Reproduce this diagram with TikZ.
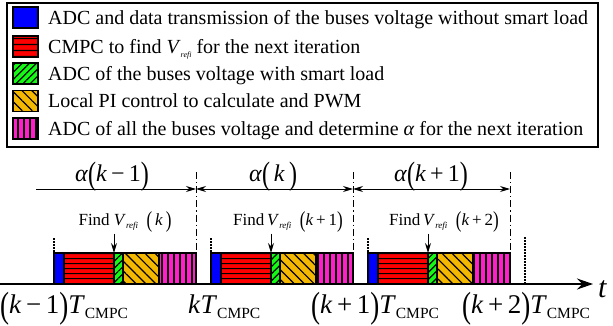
\documentclass[tikz,border=0pt]{standalone}
\usepackage{fontspec}
\setmainfont{Liberation Serif}
\usetikzlibrary{arrows.meta,patterns.meta,calc}

\definecolor{adcblue}{RGB}{0,0,255}
\definecolor{cmpcred}{RGB}{255,0,0}
\definecolor{loadgreen}{RGB}{20,250,20}
\definecolor{piorange}{RGB}{245,184,0}
\definecolor{alphamag}{RGB}{255,30,200}

\newcommand{\lp}{\raisebox{-0.15em}{\scalebox{1}[1.35]{(}}}
\newcommand{\rp}{\raisebox{-0.15em}{\scalebox{1}[1.35]{)}}}
\newcommand{\Vrefi}[1][8pt]{\textit{V}\raisebox{-0.4ex}{\fontsize{#1}{#1}\selectfont\textit{refi}}}
\newcommand{\Tcmpc}{\textit{T}\raisebox{-0.45ex}{\fontsize{15.5}{15.5}\selectfont CMPC}}

\tikzset{
  seg/.style={draw=black,line width=1.1pt},
  adcbox/.style={seg,fill=adcblue},
  cmpcbox/.style={seg,fill=cmpcred,postaction={pattern={Lines[angle=0,distance=5.4pt,line width=1.2pt]},pattern color=black}},
  loadbox/.style={seg,fill=loadgreen,postaction={pattern={Lines[angle=45,distance=5pt,line width=1.2pt]},pattern color=black}},
  pibox/.style={seg,fill=piorange,postaction={pattern={Lines[angle=-45,distance=7pt,line width=1.2pt]},pattern color=black}},
  alphabox/.style={seg,fill=alphamag,postaction={pattern={Lines[angle=90,distance=6pt,line width=1.2pt]},pattern color=black}},
  swatch/.style={minimum width=25pt,minimum height=21pt,inner sep=0pt},
  legtext/.style={anchor=base west,inner sep=0pt,font=\fontsize{20}{20}\selectfont},
  alab/.style={anchor=base,inner sep=0pt,font=\fontsize{24}{24}\selectfont},
  flab/.style={anchor=base,inner sep=1pt,font=\fontsize{17}{17}\selectfont},
  tlab/.style={anchor=base west,inner sep=0pt,font=\fontsize{27}{27}\selectfont},
  dashdot/.style={line width=1pt,dash pattern=on 7pt off 3pt on 1.2pt off 3pt},
  startdot/.style={line width=1.2pt,dash pattern=on 1.5pt off 1.5pt}
}

\begin{document}
\begin{tikzpicture}[x=1pt,y=-1pt,>={Stealth[length=10pt,width=6pt]}]
\useasboundingbox (0,0) rectangle (613,326);

% Legend
\draw[line width=1.3pt] (7,3) rectangle (598,147);
\node[swatch,adcbox] (sw1) at (25.5,17.5) {};
\node[swatch,cmpcbox] (sw2) at (25.5,46.5) {};
\node[swatch,loadbox] (sw3) at (25.5,73.5) {};
\node[swatch,pibox] (sw4) at (25.5,101) {};
\node[swatch,alphabox] (sw5) at (25.5,128.5) {};
\node[legtext] (lt1) at (48,24.5) {ADC and data transmission of the buses voltage without smart load};
\node[legtext] (lt2) at (48,53.5) {CMPC to find \Vrefi\ for the next iteration};
\node[legtext] (lt3) at (48,80.5) {ADC of the buses voltage with smart load};
\node[legtext] (lt4) at (48,108) {Local PI control to calculate and PWM};
\node[legtext] (lt5) at (48,135.5) {ADC of all the buses voltage and determine \textit{α} for the next iteration};

% Time axis
\coordinate (t0) at (0,284);
\coordinate (tend) at (593,284);
\draw[line width=1.3pt,-{Stealth[length=16pt,width=11pt]}] (t0) -- (tend);
\node[tlab,font=\fontsize{30}{30}\selectfont\itshape] (tt) at (598,297) {t};

% Control periods
\foreach \s [count=\n] in {54,211,368} {
  \draw[adcbox] (\s,253) rectangle (\s+10,284);
  \draw[cmpcbox] (\s+10,253) rectangle (\s+60,284);
  \draw[loadbox] (\s+60,253) rectangle (\s+69,284);
  \draw[pibox] (\s+69,253) rectangle (\s+105,284);
  \draw[alphabox] (\s+105,253) rectangle (\s+142,284);
  \draw[startdot] (\s,238) -- (\s,253);
  \draw[dashdot] (\s+142,172) -- (\s+142,253);
  \coordinate (e\n) at (\s+142,189);
  \coordinate (tip\n) at (\s+60,253);
}
\draw[startdot] (525,237) -- (525,284);

% Alpha intervals
\coordinate (e0) at (36,189);
\draw[->,line width=0.9pt] (e0) -- (e1);
\draw[<->,line width=0.9pt] (e1) -- (e2);
\draw[<->,line width=0.9pt] (e2) -- (e3);
\node[alab] (al1) at (112,181) {\textit{α}\lp\textit{k}\,−\,1\rp};
\node[alab] (al2) at (273,181) {\textit{α}\lp\,\textit{k}\,\rp};
\node[alab] (al3) at (431,181) {\textit{α}\lp\textit{k}\,+\,1\rp};

% Find labels
\node[flab] (f1) at (125,225) {Find \Vrefi[9pt]\enspace\lp\,\textit{k}\,\rp};
\node[flab] (f2) at (288,225) {Find\,\Vrefi[9pt]\enspace\lp\textit{k}\,+\,1\rp};
\node[flab] (f3) at (444,225) {Find\,\Vrefi[9pt]\enspace\lp\textit{k}\,+\,2\rp};
\foreach \n in {1,2,3}
  \draw[->,line width=1pt] (f\n.south -| tip\n) -- (tip\n);

% Sampling instants
\node[tlab] (k1) at (0,313) {\lp\textit{k}\,−\,1\rp\Tcmpc};
\node[tlab] (k2) at (188,313) {\textit{k}\Tcmpc};
\node[tlab] (k3) at (311,313) {\lp\textit{k}\,+\,1\rp\Tcmpc};
\node[tlab] (k4) at (462,313) {\lp\textit{k}\,+\,2\rp\Tcmpc};
\end{tikzpicture}
\end{document}
